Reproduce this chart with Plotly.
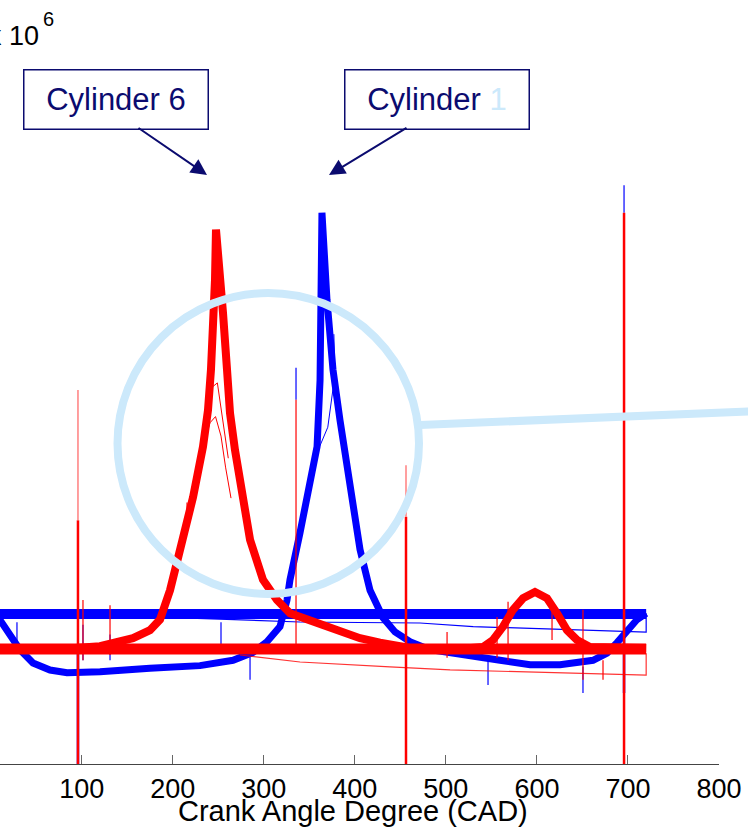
import plotly.graph_objects as go

# ---------------- data ----------------
# Cylinder 1 pressure trace (blue), crank angle [deg] and pressure [x10^6]
cyl1_cad = [0, 10.3, 21.2, 32.2, 46.5, 65.2, 83.9, 120.1, 175.0, 229.9, 266.2, 288.2, 303.5,
            317.8, 325.5, 328.8, 339.8, 350.8, 358.5, 361.8, 362.9, 363.9, 369.4, 376.0, 383.7,
            391.4, 398.0, 405.7, 416.7, 431.0, 444.1, 460.6, 482.6, 515.6, 559.5, 592.5, 625.4,
            661.6, 677.0, 688.0, 699.0, 710.0, 720.0]
cyl1_p = [1.78, 1.63, 1.46, 1.29, 1.14, 1.06, 1.03, 1.04, 1.08, 1.11, 1.17, 1.26, 1.38,
          1.55, 1.85, 2.08, 2.61, 3.13, 3.58, 4.33, 5.09, 6.22, 5.24, 4.45, 3.88,
          3.40, 2.87, 2.42, 1.96, 1.65, 1.49, 1.38, 1.29, 1.23, 1.17, 1.12, 1.12,
          1.17, 1.25, 1.37, 1.51, 1.63, 1.70]
# a low-peak cycle of cylinder 1
cyl1_low_cad = [359.6, 370.3, 376.0, 378.2, 377.0]
cyl1_low_p = [3.54, 3.80, 4.23, 4.31, 4.85]

# Cylinder 6 pressure trace (red)
cyl6_cad = [0, 10.3, 65.2, 120.1, 156.3, 175.0, 186.0, 197.0, 205.8, 215.7, 222.3, 233.2, 238.7,
            242.0, 244.2, 246.4, 247.5, 250.8, 255.2, 259.6, 262.9, 268.4, 273.9, 284.9, 299.1,
            314.5, 328.8, 361.8, 405.7, 427.7, 460.6, 504.6, 540.8, 551.8, 562.8, 573.7, 584.7,
            597.9, 611.1, 622.1, 633.1, 644.0, 658.3, 720.0]
cyl6_p = [1.31, 1.31, 1.29, 1.33, 1.42, 1.51, 1.63, 1.96, 2.34, 2.75, 3.01, 3.58, 3.99,
          4.45, 4.90, 5.46, 6.03, 5.69, 5.09, 4.45, 3.96, 3.54, 3.21, 2.53, 2.08,
          1.85, 1.70, 1.57, 1.42, 1.37, 1.31, 1.29, 1.32, 1.40, 1.55, 1.74, 1.87,
          1.94, 1.87, 1.70, 1.51, 1.40, 1.32, 1.31]
# low-peak cycles of cylinder 6
cyl6_low_cad = [233.2, 240.9, 247.0, 253.0, 258.0, 264.0]
cyl6_low_p = [3.58, 3.85, 3.92, 3.70, 3.35, 3.00]
cyl6_low2_cad = [236.0, 243.0, 249.0, 255.0, 261.0]
cyl6_low2_p = [3.80, 4.25, 4.30, 3.90, 3.45]

# cycle-return bands and drift lines
band_cad = [0, 720]
band1_p = [1.693, 1.693]
band6_p = [1.298, 1.298]
drift1_cad = [219.0, 339.8, 471.6, 530.0, 720.0, 720.0]
drift1_p = [1.647, 1.602, 1.591, 1.550, 1.489, 1.700]
drift6_cad = [273.9, 339.8, 438.6, 504.6, 720.0, 720.0]
drift6_p = [1.230, 1.151, 1.095, 1.061, 1.004, 1.250]

# sensor spikes: (crank angle, low, high)
red_spikes_main = [(95.9, 0.0, 2.75), (456.2, 0.0, 2.79), (695.7, 0.0, 6.22)]
red_spikes_faint = [(95.9, 2.75, 4.22), (456.2, 2.79, 3.37)]
red_spikes_small = [(335.4, 1.29, 4.11), (101.4, 1.17, 1.85), (131.1, 1.23, 1.79),
                    (215.7, 2.64, 2.95), (501.3, 1.20, 1.49), (556.2, 1.20, 1.66),
                    (568.3, 1.17, 1.83), (616.6, 1.40, 1.83), (650.6, 0.95, 1.74),
                    (672.6, 0.95, 1.17)]
blue_spikes = [(335.4, 4.11, 4.47), (695.7, 6.22, 6.53), (101.4, 1.17, 1.57),
               (131.1, 1.17, 1.46), (28.9, 1.32, 1.60), (253.0, 1.32, 1.60),
               (284.9, 0.95, 1.32), (546.3, 0.89, 1.20), (650.6, 0.80, 1.10)]
blue_spikes_wide = [(95.9, 0.0, 1.30), (695.7, 0.80, 1.70)]

x_ticks = [100, 200, 300, 400, 500, 600, 700, 800]
x_title = "Crank Angle Degree (CAD)"

# ---------------- figure ----------------
BLUE = "#0000ff"
RED = "#ff0000"
NAVY = "#0b0b6f"
LIGHT = "#cce9fb"
AXFONT = "Liberation Sans, Arial, sans-serif"
BOXFONT = "Liberation Sans, Arial, sans-serif"


def spike_xy(spikes):
    xs, ys = [], []
    for c, lo, hi in spikes:
        xs += [c, c, None]
        ys += [lo, hi, None]
    return xs, ys


fig = go.Figure()

def add_line(x, y, color, width, opacity=1.0):
    fig.add_trace(go.Scatter(x=x, y=y, mode="lines", opacity=opacity,
                             line=dict(color=color, width=width),
                             hoverinfo="skip", showlegend=False))

# cylinder 1 (blue)
add_line(cyl1_cad, cyl1_p, BLUE, 7)
add_line(cyl1_low_cad, cyl1_low_p, BLUE, 1)
add_line(band_cad, band1_p, BLUE, 10)
add_line(drift1_cad, drift1_p, BLUE, 1.2)
sx, sy = spike_xy(blue_spikes)
add_line(sx, sy, BLUE, 1.2)
sx, sy = spike_xy(blue_spikes_wide)
add_line(sx, sy, BLUE, 2.5)

# cylinder 6 (red)
add_line(cyl6_cad, cyl6_p, RED, 8)
add_line(cyl6_low_cad, cyl6_low_p, RED, 1)
add_line(cyl6_low2_cad, cyl6_low2_p, RED, 1)
add_line(band_cad, band6_p, RED, 11)
add_line(drift6_cad, drift6_p, RED, 1.2, 0.8)
sx, sy = spike_xy(red_spikes_main)
add_line(sx, sy, RED, 2.5)
sx, sy = spike_xy(red_spikes_faint)
add_line(sx, sy, "#ff7f7f", 1.5)
sx, sy = spike_xy(red_spikes_small)
add_line(sx, sy, RED, 1.2)

W, H = 748, 831
ML, MR, MT, MB = 0, 29, 55, 67
PW, PH = W - ML - MR, H - MT - MB


def px(xpix):
    return (xpix - ML) / PW


def py(ypix):
    return (H - MB - ypix) / PH


# highlight circle and connector
fig.add_shape(type="circle", xref="paper", yref="paper",
              x0=px(117.5), x1=px(419), y0=py(594), y1=py(293),
              line=dict(color=LIGHT, width=8), layer="above")
fig.add_shape(type="line", xref="paper", yref="paper",
              x0=px(420), y0=py(425), x1=px(760), y1=py(411),
              line=dict(color=LIGHT, width=8), layer="above")

# callout boxes
for txt, cx in [("Cylinder 6", 116), (f"Cylinder <span style='color:{LIGHT}'>1</span>", 436.5)]:
    fig.add_annotation(xref="paper", yref="paper", x=px(cx), y=py(99),
                       xanchor="center", yanchor="middle", text=txt, showarrow=False,
                       font=dict(family=BOXFONT, size=31, color=NAVY),
                       bordercolor=NAVY, borderwidth=1.5, borderpad=0,
                       width=183, height=58, bgcolor="white")
# arrows
for tipx, tailx in [(207, 137), (329, 408)]:
    fig.add_annotation(xref="paper", yref="paper", x=px(tipx), y=py(175),
                       ax=tailx - tipx, ay=127 - 175, text="", showarrow=True,
                       arrowhead=2, arrowsize=1.6, arrowwidth=2, arrowcolor=NAVY)

# exponent label (its left part is cut by the page edge, as in the original)
fig.add_annotation(xref="paper", yref="paper", x=px(41), y=py(36), xanchor="right",
                   yanchor="middle", text="x 10", showarrow=False,
                   font=dict(family=AXFONT, size=27, color="black"))
fig.add_annotation(xref="paper", yref="paper", x=px(41), y=py(19), xanchor="left",
                   yanchor="middle", text="6", showarrow=False,
                   font=dict(family=AXFONT, size=20, color="black"))

# axis title (overlaps the tick labels as in the original)
fig.add_annotation(xref="paper", yref="paper", x=px(353), y=py(811), xanchor="center",
                   yanchor="middle", text=x_title, showarrow=False,
                   font=dict(family=AXFONT, size=29, color="black"))

fig.update_layout(
    width=W, height=H, margin=dict(l=ML, r=MR, t=MT, b=MB),
    paper_bgcolor="white", plot_bgcolor="white",
    xaxis=dict(range=[10.26, 800], tickvals=x_ticks, ticks="inside", ticklen=9,
               tickcolor="#666666", tickwidth=1.2, showline=True, linecolor="#444444",
               linewidth=1.2, showgrid=False, zeroline=False,
               tickfont=dict(family=AXFONT, size=27, color="black")),
    yaxis=dict(range=[0, 8], visible=False),
)

fig.write_html("out.html")
